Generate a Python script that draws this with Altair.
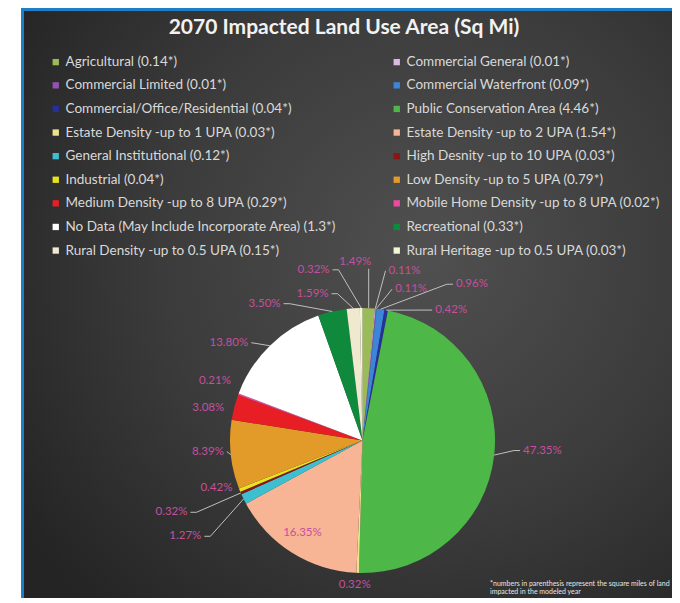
import math
import pandas as pd
import altair as alt

# ---------------- data ----------------
categories = [
    "Agricultural", "Commercial General", "Commercial Limited", "Commercial Waterfront",
    "Commercial/Office/Residential", "Public Conservation Area", "Estate Density -up to 1 UPA",
    "Estate Density -up to 2 UPA", "General Institutional", "High Desnity -up to 10 UPA",
    "Industrial", "Low Density -up to 5 UPA", "Medium Density -up to 8 UPA",
    "Mobile Home Density -up to 8 UPA", "No Data (May Include Incorporate Area)",
    "Recreational", "Rural Density -up to 0.5 UPA", "Rural Heritage -up to 0.5 UPA",
]
sq_mi = [0.14, 0.01, 0.01, 0.09, 0.04, 4.46, 0.03, 1.54, 0.12, 0.03,
         0.04, 0.79, 0.29, 0.02, 1.3, 0.33, 0.15, 0.03]
colors = [
    "#9bbb59", "#dcb8e6", "#9152b0", "#3d85d8", "#26309a", "#4db848", "#ece38c",
    "#f8b595", "#3ebfd0", "#8a1515", "#e8e31c", "#e29b28", "#e81e25", "#ea4aa0",
    "#ffffff", "#0f8a3c", "#efe9cf", "#f4f6d4",
]
TITLE = "2070 Impacted Land Use Area (Sq Mi)"
FOOTNOTE = ["*numbers in parenthesis represent the square miles of land",
            "impacted in the modeled year"]

# ---------------- layout (label placement: angle deg, radius in pie radii, leader) ----------------
label_layout = [
    (357.7, 1.35, True), (13.9, 1.32, True), (17.8, 1.20, True), (35.0, 1.44, True),
    (34.2, 1.19, True), (93.2, 1.36, True), (183.1, 1.09, False), (213.1, 0.83, False),
    (241.6, 1.52, True), (249.4, 1.54, True), (251.9, 1.16, False), (265.9, 1.17, True),
    (282.0, 1.19, False), (291.8, 1.20, False), (306.2, 1.25, True), (324.4, 1.27, True),
    (341.2, 1.17, True), (344.0, 1.34, True),
]

W, H = 664, 590
CX, CY, R = 354.5, 432.5, 132.5
PINK = "#c4509e"
FONT = "Lato"

total = sum(sq_mi)
legend_labels = [f"{c} ({v:g}*)" for c, v in zip(categories, sq_mi)]

pie_rows, label_rows, line_rows = [], [], []
cum = 0.0
for i, (c, v) in enumerate(zip(categories, sq_mi)):
    mid = (cum + v / 2) / total * 2 * math.pi
    cum += v
    pct = f"{v / total * 100:.2f}%"
    pie_rows.append({"idx": i, "label": legend_labels[i], "sq_mi": v})
    ang, rad, leader = label_layout[i]
    a = math.radians(ang)
    lx, ly = rad * math.sin(a), rad * math.cos(a)
    label_rows.append({"x": lx, "y": ly, "text": pct})
    if leader:
        sx, sy = math.sin(mid), math.cos(mid)
        hw = (3.4 * len(pct) + 2) / R
        if abs(lx - sx) < hw:
            pts = [(sx, sy), (sx, ly - 7 / R)]
        else:
            side = 1 if lx > sx else -1
            ex = lx - side * hw
            if abs(ex - sx) > 20 / R:
                pts = [(sx, sy), (ex - side * 6 / R, ly), (ex, ly)]
            else:
                pts = [(sx, sy), (ex, ly)]
        for k, (px, py) in enumerate(pts):
            line_rows.append({"lid": i, "ord": k, "x": px, "y": py})

pie_df = pd.DataFrame(pie_rows)
lab_df = pd.DataFrame(label_rows)
line_df = pd.DataFrame(line_rows)

xs = alt.Scale(domain=[-CX / R, (W - CX) / R], nice=False, zero=False)
ys = alt.Scale(domain=[-(H - CY) / R, CY / R], nice=False, zero=False)

one = alt.Data(values=[{"t": TITLE}])

bg_blue = alt.Chart(one).mark_rect(color="#1e7ec8").encode(
    x=alt.value(13), x2=alt.value(W), y=alt.value(0), y2=alt.value(H))

bg_dark = alt.Chart(one).mark_rect(
    fill={"gradient": "radial", "x1": 0.62, "y1": 0.42, "r1": 0.0,
          "x2": 0.62, "y2": 0.42, "r2": 0.75,
          "stops": [{"offset": 0, "color": "#505050"},
                    {"offset": 0.55, "color": "#3b3b3b"},
                    {"offset": 1, "color": "#242424"}]}
).encode(x=alt.value(16), x2=alt.value(W), y=alt.value(3), y2=alt.value(H))

arcs = alt.Chart(pie_df).mark_arc(outerRadius=R).encode(
    theta=alt.Theta("sq_mi:Q", stack=True),
    order=alt.Order("idx:Q"),
    x=alt.value(CX), y=alt.value(CY),
    color=alt.Color(
        "label:N",
        sort=legend_labels,
        scale=alt.Scale(domain=legend_labels, range=colors),
        legend=alt.Legend(
            orient="none", legendX=41, legendY=47, columns=2, direction="horizontal",
            columnPadding=53, rowPadding=8.6, symbolType="square", symbolSize=40,
            symbolStrokeWidth=0, labelFont=FONT, labelFontSize=13.5, labelColor="#d9d9d9",
            labelLimit=400, labelOffset=3, title=None, padding=0,
        ),
    ),
)

lines = alt.Chart(line_df).mark_line(color="#bfbfbf", strokeWidth=1).encode(
    x=alt.X("x:Q", scale=xs, axis=None),
    y=alt.Y("y:Q", scale=ys, axis=None),
    detail="lid:N",
    order="ord:Q",
)

labels = alt.Chart(lab_df).mark_text(
    font=FONT, fontSize=11.5, color=PINK, align="center", baseline="middle"
).encode(
    x=alt.X("x:Q", scale=xs, axis=None),
    y=alt.Y("y:Q", scale=ys, axis=None),
    text="text:N",
)

title = alt.Chart(one).mark_text(
    font=FONT, fontSize=21, fontWeight="bold", color="#f2f2f2", align="center", baseline="middle"
).encode(text="t:N", x=alt.value(336), y=alt.value(20))

foot = alt.Chart(alt.Data(values=[{"t": FOOTNOTE}])).mark_text(
    font=FONT, fontSize=7, color="#e6e6e6", align="left", baseline="top", lineHeight=8
).encode(text="t:N", x=alt.value(482), y=alt.value(572))

chart = alt.layer(bg_blue, bg_dark, arcs, lines, labels, title, foot).properties(
    width=W, height=H, background="white", padding=0,
    autosize=alt.AutoSizeParams(type="none"),
).configure_view(strokeWidth=0)

chart.save("out.html", embed_options={"renderer": "svg", "actions": False})
